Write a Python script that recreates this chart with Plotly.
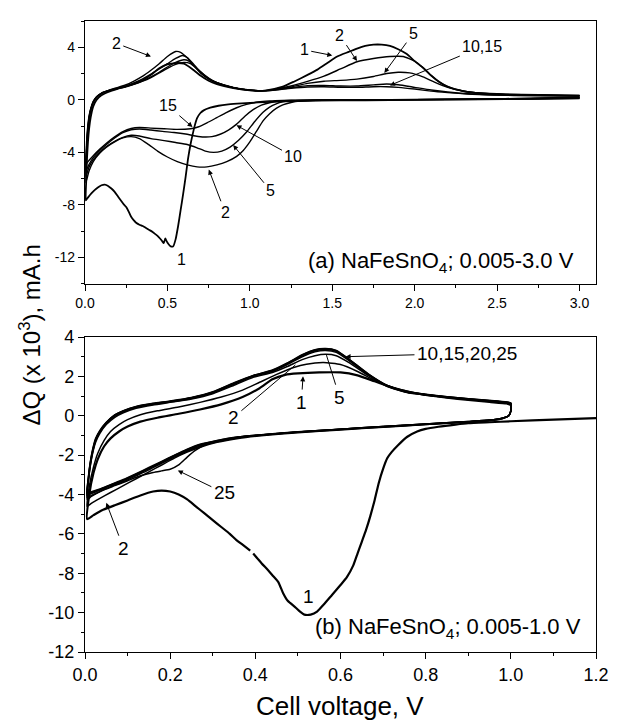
import plotly.graph_objects as go

# ---------------- DATA : panel (a) 0.005-3.0 V ----------------
a_c1 = [(3.0,0.12),(2.7,0.08),(2.4,0.04),(2.0,0.0),(1.7,-0.03),(1.4,-0.06),(1.2,-0.12),(1.05,-0.2),(0.95,-0.27),
        (0.87,-0.35),(0.81,-0.45),(0.76,-0.6),(0.72,-0.8),(0.70,-1.0),(0.68,-1.4),(0.665,-2.0),(0.65,-2.8),(0.64,-3.4),
        (0.625,-4.5),(0.61,-5.9),(0.595,-7.2),(0.58,-8.4),(0.565,-9.6),(0.55,-10.6),(0.535,-11.15),(0.52,-11.15),
        (0.505,-10.95),(0.495,-10.75),(0.487,-10.55),(0.478,-10.9),(0.468,-10.75),(0.455,-10.55),(0.44,-10.35),(0.425,-10.2),
        (0.41,-10.05),(0.39,-9.9),(0.37,-9.75),(0.35,-9.6),(0.33,-9.5),(0.31,-9.35),(0.295,-9.15),(0.28,-8.9),(0.265,-8.5),
        (0.25,-8.15),(0.235,-7.95),(0.22,-7.7),(0.2,-7.35),(0.18,-7.0),(0.16,-6.75),(0.14,-6.55),(0.12,-6.45),(0.1,-6.5),
        (0.08,-6.65),(0.06,-6.85),(0.04,-7.1),(0.02,-7.4),(0.005,-7.65),
        (0.008,-6.0),(0.012,-4.5),(0.018,-3.2),(0.025,-2.2),(0.035,-1.3),(0.05,-0.5),(0.07,0.0),(0.1,0.35),(0.15,0.65),
        (0.2,0.85),(0.25,1.05),(0.3,1.25),(0.35,1.5),(0.4,1.9),(0.45,2.4),(0.5,2.7),(0.55,2.8),(0.6,2.75),(0.65,2.35),
        (0.7,1.85),(0.75,1.45),(0.8,1.2),(0.9,0.9),(1.0,0.72),(1.05,0.68),(1.1,0.72),(1.2,1.0),(1.27,1.4),(1.35,1.9),
        (1.41,2.3),(1.47,2.8),(1.53,3.3),(1.6,3.65),(1.65,3.9),(1.7,4.1),(1.75,4.2),(1.8,4.2),(1.85,4.1),(1.9,3.85),
        (1.95,3.5),(2.0,2.95),(2.05,2.45),(2.1,1.85),(2.15,1.35),(2.2,1.0),(2.3,0.65),(2.4,0.5),(2.55,0.42),(2.75,0.38),(3.0,0.32)]

a_c2 = [(3.0,0.2),(2.7,0.12),(2.4,0.07),(2.0,0.03),(1.7,0.0),(1.5,-0.02),(1.38,-0.05),(1.3,-0.1),(1.25,-0.2),(1.2,-0.38),
        (1.16,-0.65),(1.12,-1.05),(1.08,-1.6),(1.04,-2.4),(1.0,-3.2),(0.96,-3.85),(0.92,-4.3),(0.86,-4.7),(0.8,-4.95),
        (0.74,-5.1),(0.68,-5.1),(0.62,-4.95),(0.56,-4.7),(0.5,-4.35),(0.44,-3.9),(0.38,-3.35),(0.33,-2.95),(0.28,-2.8),
        (0.23,-2.9),(0.18,-3.2),(0.13,-3.6),(0.09,-4.05),(0.05,-4.7),(0.025,-5.4),(0.005,-6.3),
        (0.008,-4.8),(0.012,-3.5),(0.018,-2.4),(0.025,-1.5),(0.035,-0.8),(0.05,-0.2),(0.07,0.2),(0.1,0.5),(0.15,0.75),
        (0.2,0.95),(0.25,1.15),(0.3,1.45),(0.35,1.8),(0.4,2.25),(0.45,2.75),(0.5,3.3),(0.55,3.68),(0.58,3.62),(0.62,3.2),
        (0.66,2.6),(0.7,2.05),(0.75,1.6),(0.8,1.3),(0.9,0.95),(1.0,0.75),(1.08,0.7),(1.15,0.8),(1.25,1.05),(1.35,1.4),
        (1.45,1.8),(1.55,2.35),(1.65,2.9),(1.75,3.15),(1.85,3.3),(1.93,3.3),(2.0,2.95),(2.05,2.45),(2.1,1.85),(2.15,1.35),
        (2.2,1.0),(2.3,0.65),(2.4,0.5),(2.55,0.42),(2.75,0.38),(3.0,0.34)]

a_c5 = [(3.0,0.18),(2.7,0.1),(2.4,0.06),(2.0,0.02),(1.6,0.0),(1.4,-0.02),(1.3,-0.04),(1.25,-0.08),(1.2,-0.15),(1.16,-0.3),
        (1.12,-0.55),(1.08,-0.95),(1.03,-1.65),(0.98,-2.45),(0.93,-3.1),(0.88,-3.6),(0.83,-3.9),(0.78,-4.0),(0.73,-3.9),
        (0.68,-3.65),(0.62,-3.4),(0.55,-3.25),(0.48,-3.1),(0.4,-2.95),(0.33,-2.75),(0.28,-2.7),(0.23,-2.85),(0.18,-3.15),
        (0.13,-3.55),(0.09,-4.0),(0.05,-4.55),(0.025,-5.1),(0.005,-5.8),
        (0.008,-4.4),(0.012,-3.2),(0.018,-2.2),(0.025,-1.4),(0.035,-0.75),(0.05,-0.2),(0.07,0.2),(0.1,0.48),(0.15,0.72),
        (0.2,0.88),(0.25,1.05),(0.3,1.3),(0.35,1.6),(0.4,1.95),(0.45,2.35),(0.5,2.75),(0.55,3.15),(0.59,3.38),(0.62,3.22),
        (0.66,2.7),(0.7,2.15),(0.75,1.65),(0.8,1.3),(0.9,0.93),(1.0,0.74),(1.08,0.7),(1.15,0.78),(1.25,0.98),(1.35,1.25),
        (1.45,1.42),(1.55,1.48),(1.65,1.58),(1.75,1.78),(1.83,2.0),(1.9,2.1),(1.97,2.05),(2.05,1.75),(2.12,1.35),(2.2,0.95),
        (2.3,0.65),(2.4,0.5),(2.55,0.4),(2.75,0.35),(3.0,0.3)]

a_c10 = [(3.0,0.15),(2.7,0.08),(2.4,0.05),(2.0,0.02),(1.6,0.0),(1.35,-0.02),(1.25,-0.04),(1.18,-0.1),(1.12,-0.22),(1.07,-0.4),
         (1.02,-0.75),(0.97,-1.25),(0.92,-1.85),(0.87,-2.3),(0.82,-2.62),(0.77,-2.8),(0.72,-2.83),(0.67,-2.75),(0.61,-2.6),
         (0.54,-2.48),(0.47,-2.4),(0.4,-2.3),(0.33,-2.22),(0.28,-2.28),(0.23,-2.5),(0.18,-2.9),(0.13,-3.4),(0.09,-3.85),
         (0.05,-4.4),(0.025,-4.9),(0.005,-5.4),
         (0.008,-4.1),(0.012,-3.0),(0.018,-2.05),(0.025,-1.3),(0.035,-0.7),(0.05,-0.15),(0.07,0.22),(0.1,0.5),(0.15,0.72),
         (0.2,0.86),(0.25,1.0),(0.3,1.2),(0.35,1.45),(0.4,1.75),(0.45,2.1),(0.5,2.5),(0.55,2.85),(0.6,3.05),(0.63,2.95),
         (0.67,2.5),(0.71,2.0),(0.75,1.6),(0.8,1.28),(0.9,0.92),(1.0,0.73),(1.08,0.68),(1.15,0.75),(1.25,0.92),(1.35,1.08),
         (1.45,1.1),(1.55,1.05),(1.65,1.05),(1.75,1.14),(1.83,1.2),(1.9,1.15),(2.0,0.95),(2.1,0.75),(2.2,0.6),(2.35,0.45),
         (2.6,0.35),(3.0,0.3)]

a_c15 = [(3.0,0.12),(2.7,0.06),(2.4,0.04),(2.0,0.02),(1.6,0.0),(1.3,-0.02),(1.2,-0.04),(1.12,-0.08),(1.05,-0.16),(0.98,-0.35),
         (0.92,-0.6),(0.86,-0.95),(0.8,-1.35),(0.74,-1.75),(0.69,-2.05),(0.64,-2.2),(0.56,-2.25),(0.48,-2.2),(0.4,-2.15),
         (0.33,-2.1),(0.28,-2.18),(0.23,-2.42),(0.18,-2.82),(0.13,-3.3),(0.09,-3.75),(0.05,-4.25),(0.025,-4.6),(0.005,-4.9),
         (0.008,-3.7),(0.012,-2.7),(0.018,-1.85),(0.025,-1.2),(0.035,-0.65),(0.05,-0.12),(0.07,0.24),(0.1,0.52),(0.15,0.74),
         (0.2,0.88),(0.25,1.02),(0.3,1.2),(0.35,1.42),(0.4,1.7),(0.45,2.05),(0.5,2.4),(0.55,2.7),(0.6,2.85),(0.64,2.75),
         (0.68,2.35),(0.72,1.9),(0.76,1.55),(0.8,1.3),(0.9,0.93),(1.0,0.74),(1.08,0.69),(1.15,0.74),(1.25,0.88),(1.35,0.98),
         (1.45,1.0),(1.55,0.96),(1.65,0.95),(1.75,1.0),(1.83,1.0),(1.9,0.95),(2.0,0.82),(2.1,0.66),(2.2,0.55),(2.35,0.42),
         (2.6,0.33),(3.0,0.28)]

# ---------------- DATA : panel (b) 0.005-1.0 V ----------------
b_c1 = [(1.2,-0.12),(1.1,-0.2),(1.0,-0.28),(0.95,-0.33),(0.9,-0.38),(0.87,-0.45),(0.83,-0.56),(0.8,-0.67),(0.78,-0.8),
        (0.756,-1.08),(0.735,-1.5),(0.72,-1.85),(0.71,-2.15),(0.7,-2.7),(0.69,-3.4),(0.68,-4.3),(0.67,-5.1),(0.66,-5.8),
        (0.65,-6.4),(0.64,-7.0),(0.63,-7.6),(0.615,-8.2),(0.6,-8.6),(0.58,-9.1),(0.56,-9.6),(0.545,-9.95),(0.53,-10.1),
        (0.515,-10.1),(0.505,-9.95),(0.495,-9.75),(0.476,-9.4),(0.465,-9.0),(0.454,-8.45),(0.44,-8.1),(0.43,-7.85),
        (0.415,-7.5),(0.405,-7.25),(0.395,-7.0),(None,None),(0.388,-6.85),(0.37,-6.55),(0.355,-6.3),(0.34,-6.0),
        (0.32,-5.65),(0.3,-5.3),(0.28,-4.95),(0.26,-4.6),(0.24,-4.25),(0.22,-4.0),(0.2,-3.85),(0.18,-3.8),(0.16,-3.85),
        (0.13,-4.05),(0.1,-4.3),(0.07,-4.55),(0.04,-4.8),(0.02,-5.05),(0.005,-5.25),
        (0.01,-4.0),(0.02,-2.9),(0.03,-2.2),(0.045,-1.55),(0.06,-1.15),(0.08,-0.8),(0.1,-0.55),(0.13,-0.3),(0.17,-0.1),
        (0.22,0.1),(0.27,0.32),(0.32,0.58),(0.37,0.95),(0.41,1.4),(0.44,1.85),(0.47,2.08),(0.5,2.15),(0.55,2.2),(0.6,2.2),
        (0.64,2.05),(0.68,1.75),(0.72,1.45),(0.76,1.22),(0.8,1.06),(0.85,0.92),(0.9,0.8),(0.95,0.7),(0.99,0.62),(1.0,0.55)]

b_c2 = [(1.0,0.55),(1.0,0.25),(0.995,0.0),(0.98,-0.15),(0.95,-0.25),(0.9,-0.32),(0.8,-0.45),(0.7,-0.58),(0.6,-0.72),
        (0.5,-0.86),(0.42,-1.0),(0.36,-1.15),(0.31,-1.35),(0.27,-1.6),(0.24,-1.85),(0.21,-2.15),(0.18,-2.5),(0.15,-2.85),
        (0.12,-3.2),(0.09,-3.55),(0.06,-3.9),(0.035,-4.2),(0.015,-4.45),(0.005,-4.6),
        (0.01,-3.6),(0.02,-2.6),(0.03,-1.9),(0.045,-1.25),(0.06,-0.8),(0.08,-0.45),(0.1,-0.2),(0.13,0.05),(0.17,0.25),
        (0.22,0.45),(0.27,0.68),(0.32,0.95),(0.37,1.3),(0.41,1.7),(0.45,2.1),(0.49,2.45),(0.52,2.62),(0.56,2.7),(0.6,2.6),
        (0.64,2.25),(0.68,1.8),(0.72,1.45),(0.76,1.23),(0.8,1.07),(0.85,0.93),(0.9,0.82),(0.95,0.72),(0.99,0.64),(1.0,0.58)]

b_c5 = [(1.0,0.6),(1.0,0.25),(0.995,0.0),(0.98,-0.14),(0.95,-0.24),(0.9,-0.31),(0.8,-0.44),(0.7,-0.57),(0.6,-0.7),
        (0.5,-0.84),(0.42,-0.98),(0.36,-1.12),(0.31,-1.32),(0.27,-1.55),(0.24,-1.8),(0.21,-2.1),(0.18,-2.42),(0.15,-2.75),
        (0.12,-3.05),(0.09,-3.35),(0.06,-3.6),(0.035,-3.85),(0.015,-4.05),(0.005,-4.15),
        (0.008,-3.3),(0.012,-2.6),(0.018,-1.9),(0.025,-1.35),(0.035,-0.9),(0.05,-0.45),(0.07,-0.08),(0.09,0.15),(0.12,0.38),
        (0.16,0.55),(0.2,0.68),(0.25,0.85),(0.3,1.12),(0.35,1.55),(0.395,1.95),(0.44,2.2),(0.475,2.5),(0.51,2.85),
        (0.54,3.05),(0.565,3.12),(0.59,3.05),(0.62,2.7),(0.665,2.05),(0.71,1.48),(0.756,1.18),(0.8,1.05),(0.85,0.93),
        (0.9,0.83),(0.95,0.74),(0.99,0.66),(1.0,0.6)]

b_c10 = [(1.0,0.62),(1.0,0.25),(0.995,0.0),(0.98,-0.13),(0.95,-0.23),(0.9,-0.3),(0.8,-0.43),(0.7,-0.56),(0.6,-0.69),
         (0.5,-0.83),(0.42,-0.97),(0.36,-1.1),(0.31,-1.3),(0.27,-1.5),(0.24,-1.75),(0.21,-2.05),(0.18,-2.38),(0.15,-2.7),
         (0.12,-3.0),(0.09,-3.3),(0.06,-3.55),(0.035,-3.78),(0.015,-3.95),(0.005,-4.05),
         (0.008,-3.2),(0.012,-2.5),(0.018,-1.8),(0.025,-1.25),(0.035,-0.82),(0.05,-0.4),(0.07,-0.02),(0.09,0.2),(0.12,0.42),
         (0.16,0.58),(0.2,0.7),(0.25,0.88),(0.3,1.15),(0.35,1.6),(0.395,2.0),(0.44,2.25),(0.475,2.6),(0.51,3.0),
         (0.54,3.25),(0.565,3.32),(0.59,3.22),(0.62,2.8),(0.665,2.08),(0.71,1.5),(0.756,1.19),(0.8,1.06),(0.85,0.94),
         (0.9,0.84),(0.95,0.75),(0.99,0.67),(1.0,0.62)]

b_c15 = [(1.0,0.63),(1.0,0.25),(0.995,0.0),(0.98,-0.12),(0.95,-0.22),(0.9,-0.3),(0.8,-0.42),(0.7,-0.55),(0.6,-0.68),
         (0.5,-0.82),(0.42,-0.96),(0.36,-1.08),(0.31,-1.27),(0.27,-1.47),(0.24,-1.72),(0.21,-2.02),(0.18,-2.35),(0.15,-2.66),
         (0.12,-2.97),(0.09,-3.27),(0.06,-3.52),(0.035,-3.74),(0.015,-3.9),(0.005,-3.98),
         (0.008,-3.15),(0.012,-2.45),(0.018,-1.75),(0.025,-1.2),(0.035,-0.78),(0.05,-0.36),(0.07,0.02),(0.09,0.23),(0.12,0.44),
         (0.16,0.6),(0.2,0.72),(0.25,0.9),(0.3,1.18),(0.35,1.63),(0.395,2.02),(0.44,2.28),(0.475,2.63),(0.51,3.05),
         (0.54,3.3),(0.565,3.37),(0.59,3.27),(0.62,2.84),(0.665,2.1),(0.71,1.52),(0.756,1.2),(0.8,1.07),(0.85,0.95),
         (0.9,0.85),(0.95,0.76),(0.99,0.68),(1.0,0.63)]

b_c20 = [(1.0,0.64),(1.0,0.25),(0.995,0.0),(0.98,-0.12),(0.95,-0.22),(0.9,-0.29),(0.8,-0.42),(0.7,-0.55),(0.6,-0.68),
         (0.5,-0.81),(0.42,-0.95),(0.36,-1.07),(0.31,-1.25),(0.27,-1.45),(0.24,-1.7),(0.21,-2.0),(0.18,-2.32),(0.15,-2.63),
         (0.12,-2.94),(0.09,-3.24),(0.06,-3.5),(0.035,-3.72),(0.015,-3.86),(0.005,-3.92),
         (0.008,-3.1),(0.012,-2.4),(0.018,-1.7),(0.025,-1.15),(0.035,-0.74),(0.05,-0.33),(0.07,0.05),(0.09,0.25),(0.12,0.46),
         (0.16,0.62),(0.2,0.74),(0.25,0.92),(0.3,1.2),(0.35,1.66),(0.395,2.04),(0.44,2.3),(0.475,2.66),(0.51,3.08),
         (0.54,3.34),(0.565,3.4),(0.59,3.3),(0.62,2.86),(0.665,2.12),(0.71,1.53),(0.756,1.21),(0.8,1.08),(0.85,0.96),
         (0.9,0.86),(0.95,0.77),(0.99,0.69),(1.0,0.64)]

b_c25 = [(1.0,0.65),(1.0,0.25),(0.995,0.0),(0.98,-0.12),(0.95,-0.22),(0.9,-0.29),(0.8,-0.42),(0.7,-0.55),(0.6,-0.68),
         (0.5,-0.82),(0.42,-0.96),(0.36,-1.1),(0.31,-1.3),(0.28,-1.5),(0.26,-1.75),(0.24,-2.1),(0.22,-2.5),(0.2,-2.72),
         (0.18,-2.8),(0.16,-2.88),(0.13,-3.05),(0.1,-3.3),(0.07,-3.55),(0.04,-3.8),(0.015,-4.1),(0.005,-4.25),
         (0.008,-3.35),(0.012,-2.6),(0.018,-1.85),(0.025,-1.25),(0.035,-0.8),(0.05,-0.35),(0.07,0.04),(0.09,0.26),(0.12,0.47),
         (0.16,0.63),(0.2,0.75),(0.25,0.93),(0.3,1.22),(0.35,1.68),(0.395,2.05),(0.44,2.32),(0.475,2.68),(0.51,3.1),
         (0.54,3.36),(0.565,3.42),(0.59,3.32),(0.62,2.88),(0.665,2.13),(0.71,1.54),(0.756,1.22),(0.8,1.09),(0.85,0.97),
         (0.9,0.87),(0.95,0.78),(0.99,0.7),(1.0,0.65)]

# tick labels
a_xticks = [0.0, 0.5, 1.0, 1.5, 2.0, 2.5, 3.0]
a_xtext = ["0.0", "0.5", "1.0", "1.5", "2.0", "2.5", "3.0"]
a_yticks = [-12, -8, -4, 0, 4]
a_ytext = ["-12", "-8", "-4", "0", "4"]
b_xticks = [0.0, 0.2, 0.4, 0.6, 0.8, 1.0, 1.2]
b_xtext = ["0.0", "0.2", "0.4", "0.6", "0.8", "1.0", "1.2"]
b_yticks = [-12, -10, -8, -6, -4, -2, 0, 2, 4]
b_ytext = ["-12", "-10", "-8", "-6", "-4", "-2", "0", "2", "4"]

# ---------------- FIGURE ----------------
FONT = "Arial, Liberation Sans, Helvetica, sans-serif"
fig = go.Figure()


def add_curve(pts, xa, ya, width):
    xs = [p[0] for p in pts]
    ys = [p[1] for p in pts]
    fig.add_trace(go.Scatter(x=xs, y=ys, xaxis=xa, yaxis=ya, mode="lines", connectgaps=False,
                             line=dict(color="black", width=width, shape="spline", smoothing=0.5),
                             hoverinfo="skip", showlegend=False))


for pts in [a_c15, a_c10, a_c5, a_c2]:
    add_curve(pts, "x", "y", 1.4)
add_curve(a_c1, "x", "y", 1.8)
for pts in [b_c25, b_c20, b_c15, b_c10, b_c5, b_c2]:
    add_curve(pts, "x2", "y2", 1.5)
add_curve(b_c1, "x2", "y2", 2.2)

axis_common = dict(showline=True, linecolor="black", linewidth=1.3, mirror=True, showgrid=False, zeroline=False,
                   ticks="outside", ticklen=6, tickwidth=1.2, tickcolor="black", tickmode="array",
                   ticklabeloverflow="allow")

fig.update_layout(
    width=620, height=721,
    margin=dict(l=85, r=12, t=11, b=69),
    paper_bgcolor="white", plot_bgcolor="white", showlegend=False,
    font=dict(family=FONT, color="black"),
    xaxis=dict(domain=[0, 1], anchor="y", range=[0, 3.1], tickvals=a_xticks, ticktext=a_xtext,
               tickfont=dict(size=14),
               minor=dict(tickmode="linear", tick0=0, dtick=0.25, ticks="outside", ticklen=3, tickcolor="black", tickwidth=1),
               **axis_common),
    yaxis=dict(domain=[0.5835, 1], anchor="x", range=[-14, 6], tickvals=a_yticks, ticktext=a_ytext,
               tickfont=dict(size=14),
               minor=dict(tickmode="linear", tick0=0, dtick=2, ticks="outside", ticklen=3, tickcolor="black", tickwidth=1),
               **axis_common),
    xaxis2=dict(domain=[0, 1], anchor="y2", range=[0, 1.2], tickvals=b_xticks, ticktext=b_xtext,
                tickfont=dict(size=18),
                minor=dict(tickmode="linear", tick0=0, dtick=0.1, ticks="outside", ticklen=3, tickcolor="black", tickwidth=1),
                **axis_common),
    yaxis2=dict(domain=[0, 0.4992], anchor="x2", range=[-12, 4], tickvals=b_yticks, ticktext=b_ytext,
                tickfont=dict(size=18),
                minor=dict(tickmode="linear", tick0=0, dtick=1, ticks="outside", ticklen=3, tickcolor="black", tickwidth=1),
                **axis_common),
)

ann = []


def label(text, x, y, tx=None, ty=None, panel="a", size=16, head=2):
    xr, yr = ("x", "y") if panel == "a" else ("x2", "y2")
    if tx is None:
        ann.append(dict(text=text, x=x, y=y, xref=xr, yref=yr, showarrow=False,
                        font=dict(size=size, family=FONT, color="black")))
    else:
        ann.append(dict(text=text, x=tx, y=ty, ax=x, ay=y, xref=xr, yref=yr, axref=xr, ayref=yr,
                        showarrow=True, arrowhead=head, arrowsize=1, arrowwidth=1, arrowcolor="black",
                        standoff=0, startstandoff=1,
                        font=dict(size=size, family=FONT, color="black")))


# panel (a) labels
label("2", 0.19, 4.3, 0.40, 3.3)
label("1", 1.33, 3.8, 1.50, 3.38)
label("2", 1.546, 4.92, 1.65, 2.95)
label("5", 1.99, 5.04, 1.816, 2.05)
label("10,15", 2.41, 4.05, 1.85, 1.1)
label("15", 0.504, -0.45, 0.652, -2.07)
label("10", 1.264, -4.31, 0.919, -1.94)
label("5", 1.126, -6.93, 0.899, -3.44)
label("2", 0.85, -8.55, 0.751, -5.31)
label("1", 0.583, -12.17)
ann.append(dict(text="(a) NaFeSnO<sub>4</sub>; 0.005-3.0 V", x=2.98, y=-12.37, xref="x", yref="y",
                xanchor="right", yanchor="middle", showarrow=False, font=dict(size=22, family=FONT, color="black")))

# panel (b) labels
label("10,15,20,25", 0.897, 3.17, 0.612, 3.0, panel="b", size=19)
label("5", 0.598, 0.92, 0.567, 3.08, panel="b", size=19, head=0)
label("1", 0.508, 0.67, 0.512, 2.0, panel="b", size=19)
label("2", 0.349, -0.08, 0.494, 2.58, panel="b", size=19, head=0)
label("25", 0.327, -3.92, 0.218, -2.78, panel="b", size=19)
label("2", 0.091, -6.75, 0.05, -4.42, panel="b", size=19)
label("1", 0.526, -9.17, panel="b", size=19)
ann.append(dict(text="(b) NaFeSnO<sub>4</sub>; 0.005-1.0 V", x=1.17, y=-10.77, xref="x2", yref="y2",
                xanchor="right", yanchor="middle", showarrow=False, font=dict(size=22, family=FONT, color="black")))

# axis titles
ann.append(dict(text="ΔQ (x 10<sup>3</sup>), mA.h", x=-0.107, y=0.502, xref="paper", yref="paper",
                textangle=-90, showarrow=False, xanchor="center", yanchor="middle",
                font=dict(size=24, family=FONT, color="black")))
ann.append(dict(text="Cell voltage, V", x=0.499, y=-0.0858, xref="paper", yref="paper",
                showarrow=False, xanchor="center", yanchor="middle",
                font=dict(size=26, family=FONT, color="black")))

fig.update_layout(annotations=ann)
fig.write_html("out.html", config={"displayModeBar": False})
